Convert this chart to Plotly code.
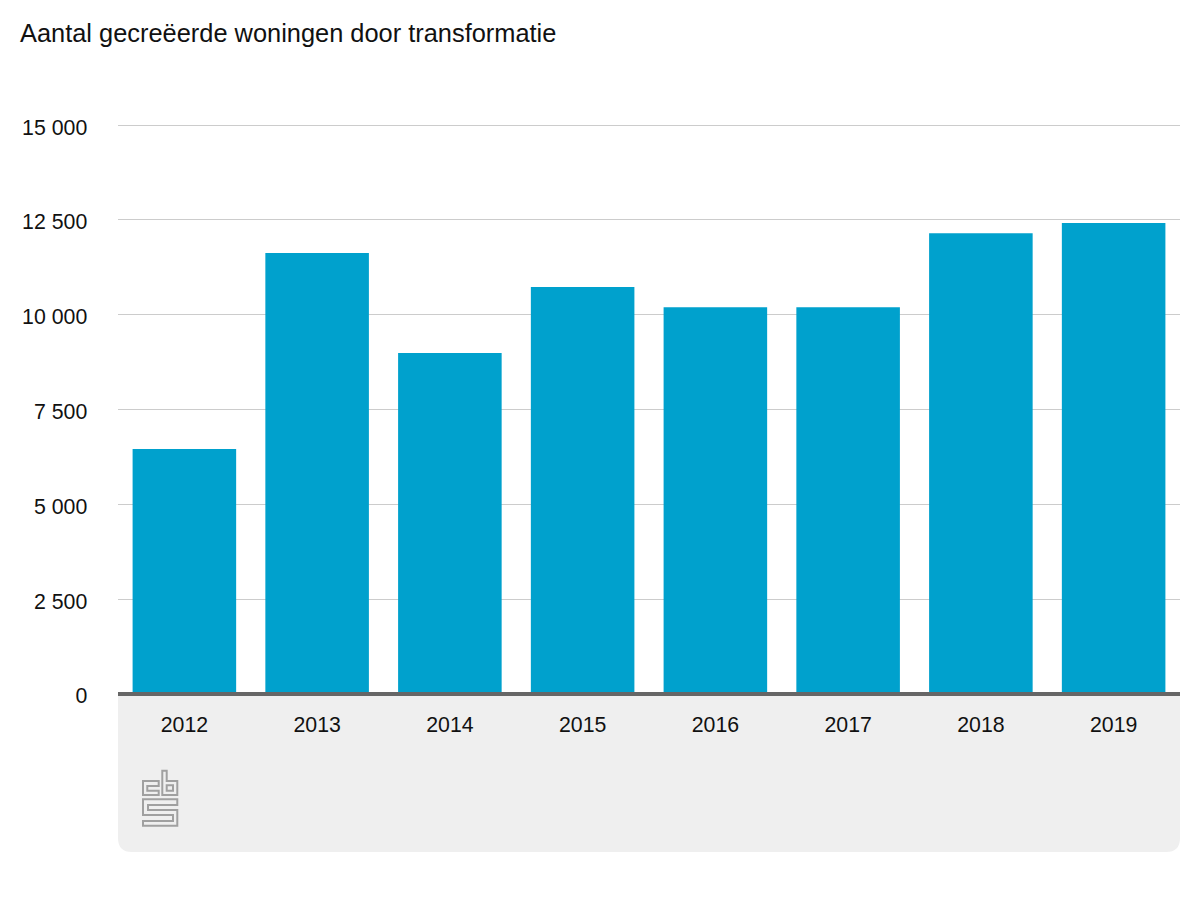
import plotly.graph_objects as go

years = ["2012", "2013", "2014", "2015", "2016", "2017", "2018", "2019"]
woningen = [6460, 11630, 8990, 10730, 10200, 10200, 12150, 12420]
y_ticks = [0, 2500, 5000, 7500, 10000, 12500, 15000]
y_labels = ["0", "2 500", "5 000", "7 500", "10 000", "12 500", "15 000"]

title = "Aantal gecreëerde woningen door transformatie"

# the page has an 8px body margin, so the figure is a bit smaller than the window
fig_w = 1184
fig_h = 884

# grey panel under the axis, pixels relative to the left end of the baseline
panel = "M 0 0 L 1062 0 L 1062 -144 Q 1062 -158 1048 -158 L 14 -158 Q 0 -158 0 -144 Z"
baseline = "M 0 2 L 1062 2 L 1062 -2 L 0 -2 Z"

# cbs logo, pixels relative to the same point
logo = [
    "M 40.7 -92 L 29.3 -92 L 29.3 -96.7 L 40.7 -96.7 L 40.7 -101 L 25 -101 L 25 -87 L 40.7 -87 Z",
    "M 44.3 -76.7 L 48.7 -76.7 L 48.7 -87 L 59.3 -87 L 59.3 -101 L 44.3 -101 Z",
    "M 48.7 -91.3 L 55 -91.3 L 55 -96.7 L 48.7 -96.7 Z",
    "M 25 -105.3 L 59.3 -105.3 L 59.3 -111 L 30 -111 L 30 -116 L 59.3 -116 L 59.3 -131.7 L 25 -131.7 "
    "L 25 -127 L 55 -127 L 55 -121 L 25 -121 Z",
]


def px_shape(path, **kw):
    return dict(type="path", path=path, xref="paper", yref="paper", xsizemode="pixel", ysizemode="pixel",
                xanchor=0, yanchor=0, **kw)


fig = go.Figure()
fig.add_trace(go.Bar(x=years, y=woningen, marker=dict(color="#00a1cd", line=dict(width=0)), width=0.78))

shapes = [px_shape(panel, fillcolor="#efefef", line=dict(width=0), layer="below")]
for p in logo:
    shapes.append(px_shape(p, line=dict(color="#a0a0a0", width=2), layer="above"))
shapes.append(px_shape(baseline, fillcolor="#666666", line=dict(width=0), layer="above"))

fig.update_layout(
    width=fig_w, height=fig_h,
    margin=dict(l=110, r=12, t=116.4, b=198),
    paper_bgcolor="white", plot_bgcolor="white",
    font=dict(family="Liberation Sans, Arial, sans-serif", size=21.3, color="#111111"),
    title=dict(text=title, x=12 / fig_w, xanchor="left", y=1 - 25 / fig_h, yanchor="middle",
               font=dict(size=25.4, color="#111111")),
    showlegend=False,
    shapes=shapes,
)
fig.update_xaxes(type="category", ticks="outside", ticklen=11, tickcolor="rgba(0,0,0,0)", showgrid=False,
                 showline=False, zeroline=False)
# a little headroom so the 15 000 gridline is drawn
fig.update_yaxes(range=[0, 15030], tickvals=y_ticks, ticktext=y_labels, gridcolor="#cccccc", gridwidth=1,
                 ticks="outside", ticklen=25.5, tickcolor="rgba(0,0,0,0)", zeroline=False, showline=False,
                 ticklabelshift=2)

fig.write_html("out.html")
